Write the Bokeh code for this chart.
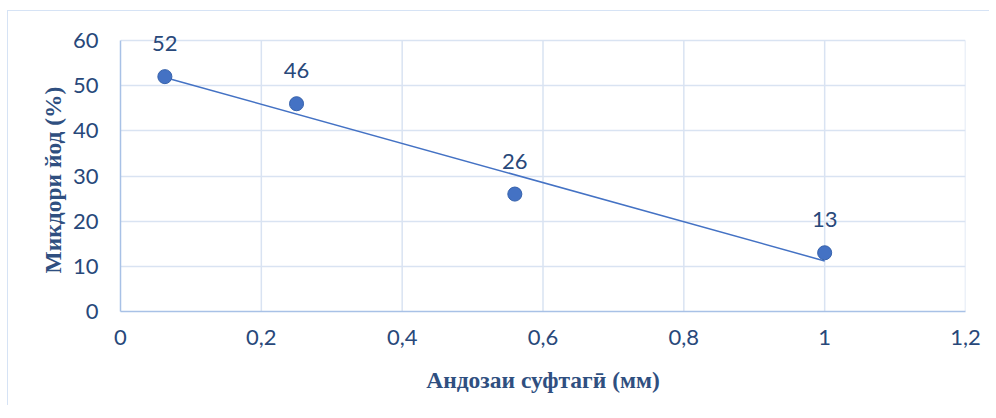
from bokeh.plotting import figure
from bokeh.models import Range1d, FixedTicker, ColumnDataSource, LabelSet, Title
from bokeh.core.properties import value
from bokeh.embed import file_html
from bokeh.resources import INLINE
import numpy as np

# data
sizes_mm = [0.063, 0.25, 0.56, 1.0]
iodine_pct = [52, 46, 26, 13]
point_labels = [str(v) for v in iodine_pct]

x_ticks = [0, 0.2, 0.4, 0.6, 0.8, 1.0, 1.2]
x_tick_labels = ["0", "0,2", "0,4", "0,6", "0,8", "1", "1,2"]
y_ticks = [0, 10, 20, 30, 40, 50, 60]
y_tick_labels = ["0", "10", "20", "30", "40", "50", "60"]

x_title = "Андозаи суфтагӣ (мм)"
y_title = "Микдори йод  (%)"

TEXT = "#28487a"
TITLE = "#2f4f80"
BLUE = "#4472c4"
GRID = "#d9e3f2"
AXIS = "#a8c1e6"
BORDER = "#d6e3f5"

# frame: 271 px for 0..60, plus headroom above for data labels
FRAME_H = 300
y_top = y_ticks[-1] * FRAME_H / 271.0

p = figure(width=982, height=395, output_backend="svg", toolbar_location=None,
           x_range=Range1d(x_ticks[0], x_ticks[-1]), y_range=Range1d(y_ticks[0], y_top),
           min_border_left=112, min_border_right=25, min_border_top=0,
           min_border_bottom=95)
p.styles = {"margin-left": "7px", "margin-top": "10px",
            "border-top": "1px solid " + BORDER, "border-left": "1px solid " + BORDER}
p.outline_line_color = None
p.background_fill_color = "white"
p.border_fill_color = "white"

for ax in (p.xaxis[0], p.yaxis[0]):
    ax.major_tick_line_color = None
    ax.minor_tick_line_color = None
    ax.major_tick_out = 0
    ax.major_tick_in = 0
    ax.axis_line_color = AXIS
    ax.axis_line_width = 1.5
    ax.major_label_text_font = "Lato"
    ax.major_label_text_font_size = "22px"
    ax.major_label_text_color = TEXT

p.xaxis.ticker = FixedTicker(ticks=x_ticks)
p.yaxis.ticker = FixedTicker(ticks=y_ticks)
p.yaxis.bounds = (y_ticks[0], y_ticks[-1])
p.xaxis.major_label_overrides = {t: l for t, l in zip(x_ticks, x_tick_labels)}
p.yaxis.major_label_overrides = {t: l for t, l in zip(y_ticks, y_tick_labels)}
p.xaxis.major_label_standoff = 18
p.yaxis.major_label_standoff = 22

p.xaxis.axis_label = x_title
p.xaxis.axis_label_text_font = "Liberation Serif"
p.xaxis.axis_label_text_font_style = "bold"
p.xaxis.axis_label_text_font_size = "23.5px"
p.xaxis.axis_label_text_color = TITLE
p.xaxis.axis_label_standoff = 19

# y title placed as a side title so it can be centred on the 0..60 span
yt = Title(text=y_title, align="left", offset=38, standoff=8,
           text_font="Liberation Serif", text_font_style="bold",
           text_font_size="23.5px", text_color=TITLE)
p.add_layout(yt, "left")

p.xgrid.visible = False
p.ygrid.ticker = FixedTicker(ticks=y_ticks)
p.ygrid.grid_line_color = GRID
p.ygrid.grid_line_width = 1.5
# vertical grid lines limited to the 0..60 value range
p.segment(x0=x_ticks[1:], y0=[y_ticks[0]] * (len(x_ticks) - 1),
          x1=x_ticks[1:], y1=[y_ticks[-1]] * (len(x_ticks) - 1),
          line_color=GRID, line_width=1.5, level="underlay")

# linear trend line over data range
slope, intercept = np.polyfit(sizes_mm, iodine_pct, 1)
tx = [min(sizes_mm), max(sizes_mm)]
ty = [slope * v + intercept for v in tx]
p.line(tx, ty, line_color=BLUE, line_width=1.5)

src = ColumnDataSource(dict(x=sizes_mm, y=iodine_pct, lab=point_labels))
p.scatter("x", "y", source=src, size=15, fill_color="#b0b8c4", fill_alpha=0.35,
          line_color=None)
p.scatter("x", "y", source=src, size=14, fill_color=BLUE, line_color="#3763ae",
          line_width=1)

labels = LabelSet(x="x", y="y", text="lab", source=src, y_offset=33,
                  text_align="center", text_baseline="middle",
                  text_font=value("Lato"), text_font_size=value("22px"),
                  text_color=TEXT)
p.add_layout(labels)

open("out.html", "w").write(file_html(p, INLINE))
